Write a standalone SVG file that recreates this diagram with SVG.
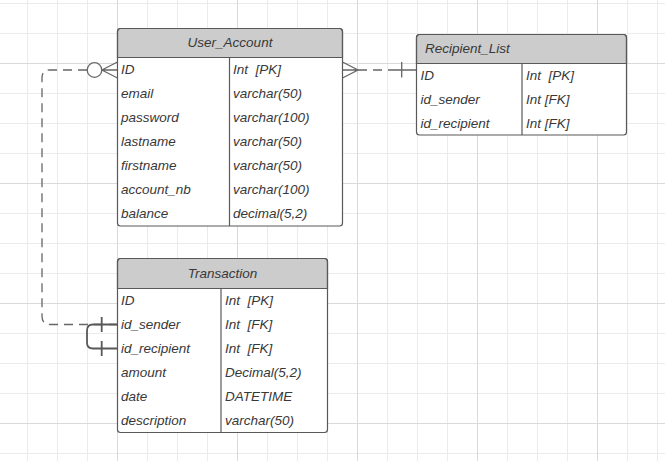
<svg xmlns="http://www.w3.org/2000/svg" width="665" height="461" viewBox="0 0 665 461">
<defs>
<pattern id="minor" x="27" y="3" width="30" height="30" patternUnits="userSpaceOnUse">
<rect x="0" y="0" width="1" height="30" fill="#ebebeb"/>
<rect x="0" y="0" width="30" height="1" fill="#ebebeb"/>
</pattern>
<pattern id="major" x="117" y="63" width="120" height="120" patternUnits="userSpaceOnUse">
<rect x="0" y="0" width="1" height="120" fill="#dadada"/>
<rect x="0" y="0" width="120" height="1" fill="#dadada"/>
</pattern>
</defs>
<style>
.t{font-family:"Liberation Sans",Arial,sans-serif;font-style:italic;font-size:13.5px;fill:#383838;white-space:pre}
.h{font-family:"Liberation Sans",Arial,sans-serif;font-style:italic;font-size:13.5px;fill:#383838;white-space:pre}
.box{fill:none;stroke:#595959;stroke-width:1.2}
.body{fill:#ffffff}
.head{fill:#cccccc;stroke:#595959;stroke-width:1.2}
.div{stroke:#595959;stroke-width:1.2}
.c{fill:none;stroke:#666666;stroke-width:1.3}
.d{fill:none;stroke:#666666;stroke-width:1.3;stroke-dasharray:9 6}
.s{fill:none;stroke:#595959;stroke-width:1.8}
</style>
<rect width="665" height="461" fill="#ffffff"/>
<rect width="665" height="461" fill="url(#minor)"/>
<rect width="665" height="461" fill="url(#major)"/>

<g id="connectors">
<path class="d" d="M87 70 H50 Q42 70 42 78 V316 Q42 324.5 50 324.5 H117"/>
<circle cx="94.5" cy="70" r="7.3" fill="#ffffff" stroke="#666666" stroke-width="1.3"/>
<path class="c" d="M101.8 70 L117.5 62 M101.8 70 L117.5 78 M101.8 70 H117.5"/>
<path class="s" d="M117.5 324.5 H93 Q87 324.5 87 330.5 V342.5 Q87 348.5 93 348.5 H117.5"/>
<path class="s" d="M101.7 317 V332 M101.7 341 V356"/>
<path class="c" d="M342.5 62 L358 70 L342.5 78 M342.5 70 H358"/>
<path class="d" d="M358 70 H394"/>
<path class="c" d="M394 70 H416.5 M401.7 62 V77.5"/>
</g>

<g id="user_account">
<rect class="body" x="117.5" y="28.5" width="225" height="197.5" rx="3"/>
<path class="head" d="M117.5 57.5 V31.5 Q117.5 28.5 120.5 28.5 H339.5 Q342.5 28.5 342.5 31.5 V57.5 Z"/>
<rect class="box" x="117.5" y="28.5" width="225" height="197.5" rx="3"/>
<line class="div" x1="229.5" y1="57.5" x2="229.5" y2="226"/>
<text class="h" x="230" y="46.5" text-anchor="middle">User_Account</text>
<text class="t" x="121" y="74">ID</text><text class="t" x="233" y="74">Int  [PK]</text>
<text class="t" x="121" y="98">email</text><text class="t" x="233" y="98">varchar(50)</text>
<text class="t" x="121" y="122">password</text><text class="t" x="233" y="122">varchar(100)</text>
<text class="t" x="121" y="146">lastname</text><text class="t" x="233" y="146">varchar(50)</text>
<text class="t" x="121" y="170">firstname</text><text class="t" x="233" y="170">varchar(50)</text>
<text class="t" x="121" y="194">account_nb</text><text class="t" x="233" y="194">varchar(100)</text>
<text class="t" x="121" y="218">balance</text><text class="t" x="233" y="218">decimal(5,2)</text>
</g>

<g id="recipient_list">
<rect class="body" x="416.5" y="34.5" width="210" height="100.5" rx="3"/>
<path class="head" d="M416.5 63.5 V37.5 Q416.5 34.5 419.5 34.5 H623.5 Q626.5 34.5 626.5 37.5 V63.5 Z"/>
<rect class="box" x="416.5" y="34.5" width="210" height="100.5" rx="3"/>
<line class="div" x1="522" y1="63.5" x2="522" y2="135"/>
<text class="h" x="425" y="52.5">Recipient_List</text>
<text class="t" x="420.5" y="79.5">ID</text><text class="t" x="526" y="79.5">Int  [PK]</text>
<text class="t" x="420.5" y="103.5">id_sender</text><text class="t" x="526" y="103.5">Int [FK]</text>
<text class="t" x="420.5" y="127.5">id_recipient</text><text class="t" x="526" y="127.5">Int [FK]</text>
</g>

<g id="transaction">
<rect class="body" x="117.5" y="258.5" width="210" height="174" rx="3"/>
<path class="head" d="M117.5 288.5 V261.5 Q117.5 258.5 120.5 258.5 H324.5 Q327.5 258.5 327.5 261.5 V288.5 Z"/>
<rect class="box" x="117.5" y="258.5" width="210" height="174" rx="3"/>
<line class="div" x1="221" y1="288.5" x2="221" y2="432.5"/>
<text class="h" x="222.5" y="277.5" text-anchor="middle">Transaction</text>
<text class="t" x="121" y="304.5">ID</text><text class="t" x="225" y="304.5">Int  [PK]</text>
<text class="t" x="121" y="328.5">id_sender</text><text class="t" x="225" y="328.5">Int  [FK]</text>
<text class="t" x="121" y="352.5">id_recipient</text><text class="t" x="225" y="352.5">Int  [FK]</text>
<text class="t" x="121" y="376.5">amount</text><text class="t" x="225" y="376.5">Decimal(5,2)</text>
<text class="t" x="121" y="400.5">date</text><text class="t" x="225" y="400.5">DATETIME</text>
<text class="t" x="121" y="424.5">description</text><text class="t" x="225" y="424.5">varchar(50)</text>
</g>
</svg>
